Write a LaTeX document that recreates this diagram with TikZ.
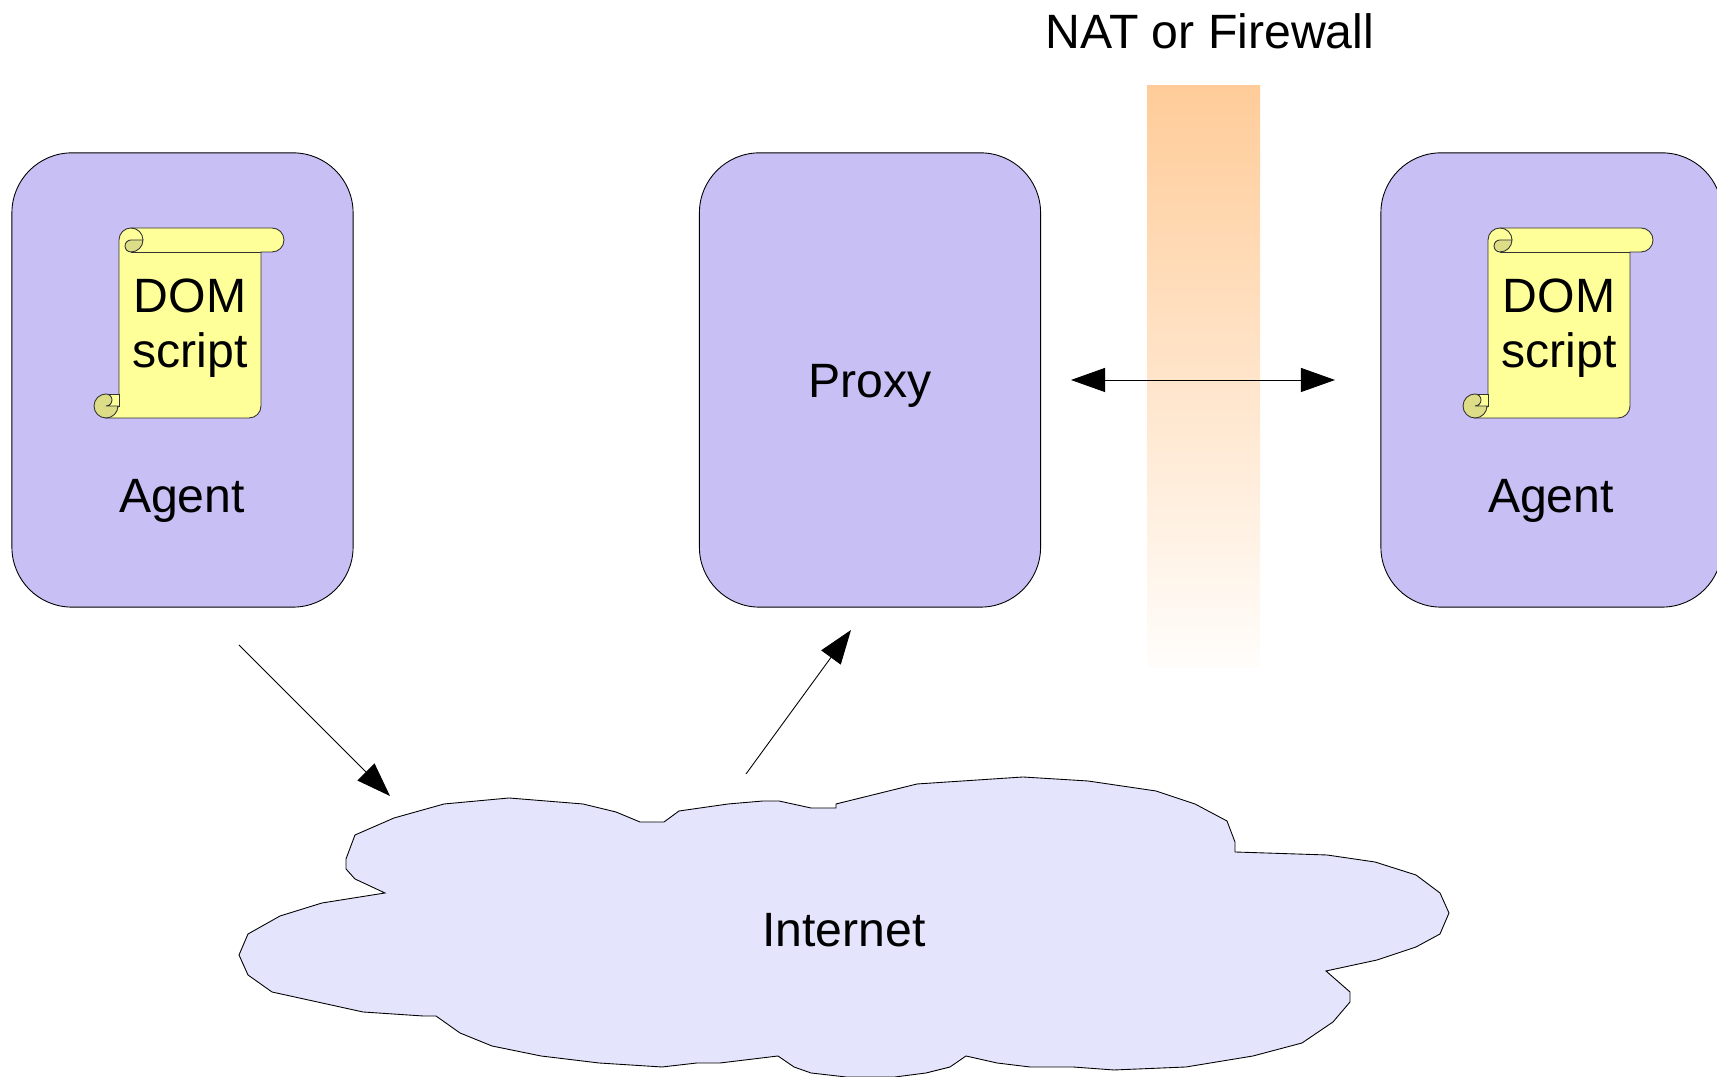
\documentclass[tikz,border=0pt]{standalone}
\usepackage{fontspec}
\setmainfont{Liberation Sans}
\usetikzlibrary{arrows.meta}

\definecolor{boxblue}{HTML}{C8C0F4}
\definecolor{cloudblue}{HTML}{E4E4FD}
\definecolor{scrollyellow}{HTML}{FFFF99}
\definecolor{scrollfold}{HTML}{DDDD88}
\definecolor{natorange}{HTML}{FFCC99}
\definecolor{natfade}{HTML}{FFFDFB}

\tikzset{
    hostbox/.style={draw=black,line width=0.25pt,fill=boxblue,rounded corners=0.6cm,
        minimum width=3.41cm,minimum height=4.54cm},
    textlabel/.style={font=\fontsize{13.7}{15.6}\selectfont,align=center,inner sep=0pt},
    flow/.style={line width=0.25pt,-{Triangle[length=3.4mm,width=2.4mm]}},
    domscroll/.pic={
        \draw[line width=0.25pt,fill=scrollyellow,draw=black!80] (131,228) -- (272,228)
            arc (-90:90:12) -- (261,252) -- (261,406) arc (0:90:12) -- (106,418)
            -- (119,406) -- (119,240) arc (180:270:12) -- cycle;
        \draw[line width=0.25pt,draw=black!80] (131,252) -- (261,252);
        % top curl
        \draw[line width=0.25pt,fill=scrollfold,draw=black!80] (143,240) arc (0:90:12)
            arc (90:270:6) -- cycle;
        \draw[line width=0.25pt,draw=black!80] (131,228) arc (-90:0:12);
        % bottom curl
        \draw[line width=0.25pt,fill=scrollyellow,draw=black!80] (106,394) -- (119,394) -- (119,406) -- (106,406) -- cycle;
        \draw[line width=0.25pt,fill=scrollfold,draw=black!80] (106,394) arc (270:90:12)
            arc (90:0:12) -- (106,406) arc (90:-90:6) -- cycle;
    },
}

\begin{document}
\begin{tikzpicture}[x=0.01cm,y=-0.01cm]
    \path[use as bounding box,clip] (0,0) rectangle (1717,1077);

    % NAT
    \shade[top color=natorange,bottom color=natfade] (1147,86) rectangle (1260,668);
    \node[textlabel] (nat) at (1210,31) {NAT or Firewall};

    % hosts
    \node[hostbox] (agentleft) at (182.5,380) {};
    \node[hostbox] (proxy) at (870,380) {};
    \node[hostbox] (agentright) at (1551.5,380) {};
    \node[textlabel] (agentlefttext) at (182,500.5) {Agent};
    \node[textlabel] (proxytext) at (870,385.5) {Proxy};
    \node[textlabel] (agentrighttext) at (1551,500.5) {Agent};

    % scrolls
    \pic at (0,0) {domscroll};
    \pic at (1369,0) {domscroll};
    \node[textlabel] (domleft) at (190,328.5) {DOM\\script};
    \node[textlabel] (domright) at (1559,328.5) {DOM\\script};

    % Internet
    \draw[line width=0.25pt,fill=cloudblue] (355,835) -- (394,818) -- (444,804) -- (509,798)
        -- (583,804) -- (616,812) -- (640,822) -- (664,822) -- (679,811) -- (728,804)
        -- (763,801) -- (779,801) -- (811,808) -- (836,808) -- (836,804) -- (917,784)
        -- (1023,777) -- (1088,781) -- (1156,791) -- (1195,804) -- (1227,821) -- (1235,842)
        -- (1235,852) -- (1327,855) -- (1375,862) -- (1416,875) -- (1440,893) -- (1449,913)
        -- (1440,934) -- (1416,947) -- (1377,960) -- (1326,971) -- (1350,992) -- (1350,1002)
        -- (1333,1022) -- (1302,1043) -- (1253,1056) -- (1186,1067) -- (1114,1070)
        -- (1073,1067) -- (1030,1067) -- (997,1063) -- (966,1056) -- (950,1067) -- (926,1073)
        -- (895,1077) -- (846,1077) -- (811,1073) -- (794,1067) -- (778,1056) -- (720,1063)
        -- (697,1063) -- (662,1067) -- (599,1063) -- (541,1056) -- (492,1046) -- (460,1033)
        -- (436,1016) -- (423,1016) -- (363,1012) -- (272,992) -- (248,975) -- (239,955)
        -- (248,934) -- (280,916) -- (322,903) -- (385,893) -- (355,879) -- (346,869)
        -- (346,859) -- cycle;
    \node[textlabel] (internet) at (844,930) {Internet};

    % arrows
    \coordinate (agentout) at (239,645);
    \coordinate (cloudin) at (390,796);
    \coordinate (cloudout) at (746,774);
    \coordinate (proxyin) at (851,630);
    \coordinate (natleft) at (1071,380);
    \coordinate (natright) at (1335,380);
    \draw[flow] (agentout) -- (cloudin);
    \draw[flow] (cloudout) -- (proxyin);
    \draw[flow,{Triangle[length=3.4mm,width=2.4mm]}-{Triangle[length=3.4mm,width=2.4mm]}] (natleft) -- (natright);
\end{tikzpicture}
\end{document}
